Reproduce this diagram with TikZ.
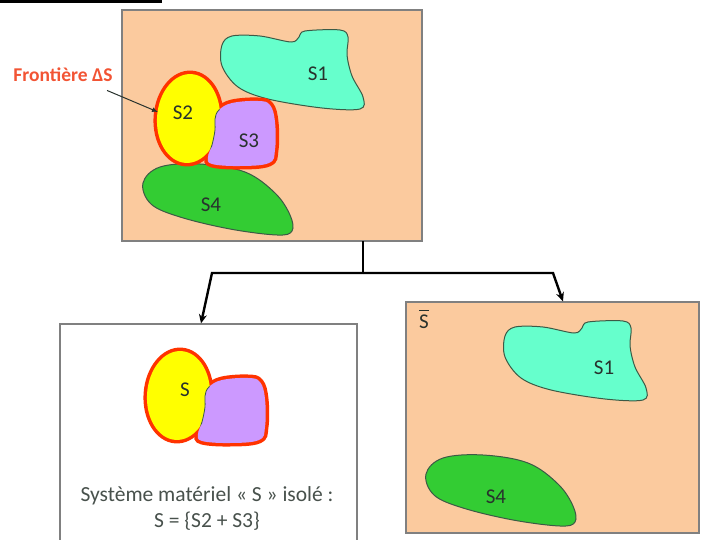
\documentclass[tikz,border=0pt]{standalone}
\usepackage{fontspec}
\setmainfont{Carlito}
\usetikzlibrary{arrows.meta}

\definecolor{peach}{RGB}{251,202,158}
\definecolor{framegray}{RGB}{128,128,128}
\definecolor{aqua}{RGB}{102,255,204}
\definecolor{lemon}{RGB}{255,255,0}
\definecolor{lilac}{RGB}{204,153,255}
\definecolor{grass}{RGB}{51,204,51}
\definecolor{border}{RGB}{255,51,0}
\definecolor{frontred}{RGB}{242,84,52}
\definecolor{outline}{RGB}{60,90,70}
\definecolor{ink}{RGB}{40,50,45}

% outlines of the solids, in pixel units
\newcommand{\pathSone}{plot[smooth cycle, tension=0.55] coordinates {(222,45) (232,36) (260,36) (291,42) (299,37) (305,31) (340,30) (348,37) (347,55) (352,76) (363,97) (360,109) (322,108) (268,99) (238,87) (222,66)}}
\newcommand{\pathStwo}{(188.5,118.5) ellipse [x radius=31.5, y radius=44.5, rotate=-4]}
\newcommand{\pathSthree}{plot[smooth cycle, tension=0.65] coordinates {(219,110) (232,103) (258,101) (270,105) (275,122) (275,150) (269,163) (240,166) (212,164) (208,157) (212,145) (215,130) (215,119)}}
\newcommand{\pathSfour}{plot[smooth cycle, tension=0.6] coordinates {(143,183) (160,167) (200,164) (245,172) (275,193) (290,215) (292,231) (277,235) (230,229) (180,217) (151,204)}}

\begin{document}
\begin{tikzpicture}[x=1pt, y=-1pt,
	frame/.style={draw=framegray, line width=1.2pt, minimum width=#1, inner sep=0pt},
	solid/.style={draw=outline, line width=1pt},
	rim/.style={draw=border, line width=7pt},
	label/.style={text=ink, font=\fontsize{21}{23}\selectfont},
	link/.style={line width=2.4pt, line join=miter},
	pointer/.style={line width=1pt, draw=ink, -{Latex[length=6pt, width=5pt]}}]
	\clip (0,0) rectangle (704,540);
	\draw[line width=3pt] (0,1.5) -- (162,1.5);
	% whole set
	\node[frame=300pt, fill=peach, minimum height=231pt] (global) at (272,125.5) {};
	\draw[solid, fill=aqua] \pathSone;
	\draw[solid, fill=grass] \pathSfour;
	\draw[rim] \pathStwo;
	\draw[rim] \pathSthree;
	\fill[lemon] \pathStwo;
	\fill[lilac] \pathSthree;
	\begin{scope}
		\clip \pathStwo;
		\draw[line width=0.8pt, draw=outline] \pathSthree;
	\end{scope}
	\node[label] (s1) at (318,74) {S1};
	\node[label] (s2) at (183,113) {S2};
	\node[label] (s3) at (249,141) {S3};
	\node[label] (s4) at (211,205) {S4};
	\node[text=frontred, font=\fontsize{19.5}{21}\selectfont\bfseries] (front) at (63,75) {Frontière ΔS};
	\coordinate (s2edge) at (158,112);
	\draw[pointer] ([shift={(-9,5)}]front.south east) -- (s2edge);
	% isolated system
	\node[frame=297pt, fill=white, minimum height=236pt] (isole) at (208.5,442) {};
	\begin{scope}[shift={(-10,277)}]
		\draw[rim] \pathStwo;
		\draw[rim] \pathSthree;
		\fill[lemon] \pathStwo;
		\fill[lilac] \pathSthree;
		\begin{scope}
			\clip \pathStwo;
			\draw[line width=0.8pt, draw=outline] \pathSthree;
		\end{scope}
	\end{scope}
	\node[label] (s) at (185,390) {S};
	\node[text=ink!85, font=\fontsize{21.5}{26}\selectfont, align=center] (legend) at (207,508) {Système matériel « S » isolé :\\S = \{S2 + S3\}};
	% outside of the system
	\node[frame=293pt, fill=peach, minimum height=231pt] (outside) at (552.5,417.5) {};
	\begin{scope}[shift={(283,291)}]
		\draw[solid, fill=aqua] \pathSone;
		\draw[solid, fill=grass] \pathSfour;
	\end{scope}
	\node[label] (s1b) at (604,368) {S1};
	\node[label] (s4b) at (496,497) {S4};
	\node[label, anchor=base] (sbar) at (424,328) {$\overline{\mbox{S}\rule{0pt}{16pt}}$};
	% splitting connector
	\coordinate (stem) at (363,241);
	\coordinate (fork) at (363,273);
	\coordinate (forkL) at (212,273);
	\coordinate (forkR) at (553,273);
	\draw[link] (stem) -- (fork);
	\draw[link, -{Stealth[length=9pt, width=8pt]}] (fork) -- (forkL) -- ([xshift=-7.5pt]isole.north);
	\draw[link, -{Stealth[length=9pt, width=8pt]}] (fork) -- (forkR) -- ([xshift=10.5pt]outside.north);
\end{tikzpicture}
\end{document}
